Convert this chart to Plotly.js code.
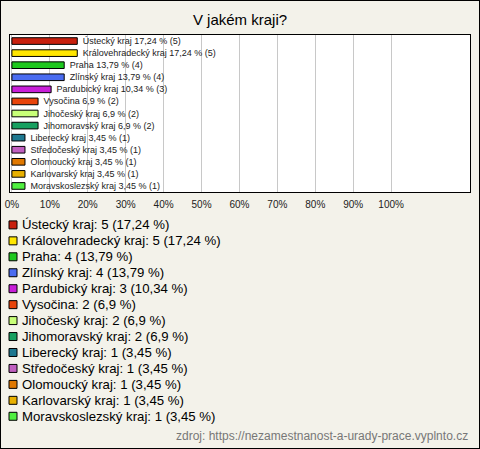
<!DOCTYPE html>
<html>
<head>
<meta charset="utf-8">
<script src="https://cdn.plot.ly/plotly-3.0.1.min.js"></script>
<style>
html,body{margin:0;padding:0;background:#f3f2ea;}
#wrap{position:absolute;left:0;top:0;width:480px;height:449px;box-sizing:border-box;border:1px solid #000;background:#f3f2ea;}
#chart{width:478px;height:447px;}
</style>
</head>
<body>
<div id="wrap"><div id="chart"></div></div>
<script>
// ---- data ----
const regions = ["Ústecký kraj","Královehradecký kraj","Praha","Zlínský kraj","Pardubický kraj","Vysočina","Jihočeský kraj","Jihomoravský kraj","Liberecký kraj","Středočeský kraj","Olomoucký kraj","Karlovarský kraj","Moravskoslezský kraj"];
const counts = [5,5,4,4,3,2,2,2,1,1,1,1,1];
const percents = [17.24,17.24,13.79,13.79,10.34,6.9,6.9,6.9,3.45,3.45,3.45,3.45,3.45];
const percentLabels = ["17,24","17,24","13,79","13,79","10,34","6,9","6,9","6,9","3,45","3,45","3,45","3,45","3,45"];
const colors = ["#c8200e","#ffe600","#1ec81e","#4a6cf0","#c81ed8","#e8440a","#c8ff78","#17a060","#1e7890","#c060c0","#e07800","#e8b000","#50f040"];
const tickVals = [0,10,20,30,40,50,60,70,80,90,100];
const tickText = ["0%","10%","20%","30%","40%","50%","60%","70%","80%","90%","100%"];
const title = "V jakém kraji?";
const source = "zdroj: https://nezamestnanost-a-urady-prace.vyplnto.cz";

// ---- layout geometry ----
const W = 478, H = 447;
const M = {l:9, r:9, t:33.5, b:256};
const plotW = W - M.l - M.r, plotH = H - M.t - M.b;
const px2x = p => (p - M.l) / plotW;
const px2y = p => 1 - (p - M.t) / plotH;

const barText = regions.map((r,i) => "\u00a0" + r + " " + percentLabels[i] + " % (" + counts[i] + ")");
const legendText = regions.map((r,i) => r + ": " + counts[i] + " (" + percentLabels[i] + " %)");

const trace = {
  type: "bar",
  orientation: "h",
  y: regions,
  x: percents,
  width: 0.55,
  marker: {color: colors, line: {color: "#000", width: 1}},
  text: barText,
  textposition: "outside",
  cliponaxis: false,
  textfont: {family: "Liberation Sans, Arial, sans-serif", size: 9, color: "#222"},
  hoverinfo: "none"
};

const annotations = [];
const shapes = [];
regions.forEach((r,i) => {
  const cy = 224 + 16 * i;
  annotations.push({
    xref: "paper", yref: "paper", x: px2x(19), y: px2y(cy),
    xanchor: "left", yanchor: "middle", showarrow: false,
    text: legendText[i],
    font: {family: "Liberation Sans, Arial, sans-serif", size: 13.2, color: "#000"}
  });
  shapes.push({
    type: "rect", xref: "paper", yref: "paper",
    x0: px2x(8), x1: px2x(16), y0: px2y(cy - 4), y1: px2y(cy + 4),
    fillcolor: colors[i], line: {color: "#000", width: 1}
  });
});
annotations.push({
  xref: "paper", yref: "paper", x: px2x(469), y: px2y(436),
  xanchor: "right", yanchor: "middle", showarrow: false,
  text: source,
  font: {family: "Liberation Sans, Arial, sans-serif", size: 12, color: "#777"}
});

const layout = {
  width: W, height: H,
  margin: M,
  paper_bgcolor: "#f3f2ea",
  plot_bgcolor: "#ffffff",
  showlegend: false,
  uniformtext: {mode: false},
  title: {
    text: title, x: 0.5, xanchor: "center",
    yref: "container", y: 1 - 19 / H, yanchor: "middle",
    font: {family: "Liberation Sans, Arial, sans-serif", size: 15, color: "#000"}
  },
  xaxis: {
    range: [-0.5, 120.8],
    tickvals: tickVals, ticktext: tickText,
    showgrid: true, gridcolor: "#c8c8c8", gridwidth: 1,
    zeroline: false,
    showline: true, mirror: true, linecolor: "#000", linewidth: 1,
    ticks: "", ticklabelstandoff: 3,
    tickfont: {family: "Liberation Sans, Arial, sans-serif", size: 10, color: "#222"},
    fixedrange: true
  },
  yaxis: {
    type: "category",
    autorange: "reversed",
    showticklabels: false,
    showgrid: false, zeroline: false,
    showline: true, mirror: true, linecolor: "#000", linewidth: 1,
    ticks: "",
    fixedrange: true
  },
  annotations: annotations,
  shapes: shapes
};
trace.constraintext = "none";

Plotly.newPlot("chart", [trace], layout, {displayModeBar: false, staticPlot: true});
</script>
</body>
</html>
